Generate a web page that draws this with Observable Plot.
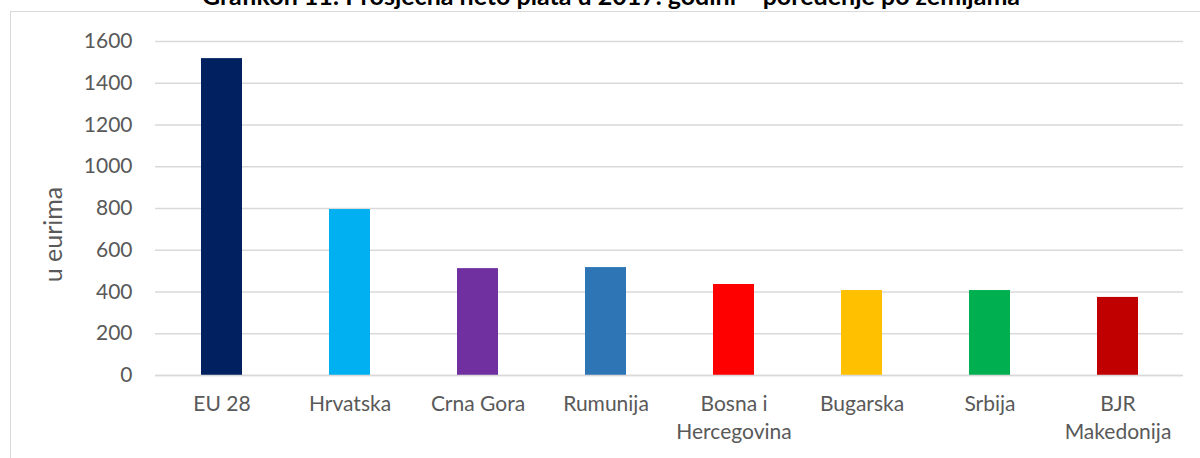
<!DOCTYPE html>
<html>
<head>
<meta charset="utf-8">
<script src="https://cdn.jsdelivr.net/npm/d3@7"></script>
<script src="https://cdn.jsdelivr.net/npm/@observablehq/plot@0.6"></script>
<style>
  html, body { margin: 0; padding: 0; background: #fff; overflow: hidden; }
  body { width: 1200px; height: 458px; position: relative; font-family: Lato, "Open Sans", sans-serif; }
  #frame { position: absolute; left: 10px; top: 11px; width: 1200px; height: 460px; border-left: 1.5px solid #d9d9d9; border-top: 1.5px solid #d9d9d9; box-sizing: border-box; }
  #title { position: absolute; left: 0; width: 1222px; top: -20px; line-height: 1.2; text-align: center; font-weight: bold; font-size: 25px; color: #000; white-space: nowrap; }
  #chart { position: absolute; left: 0; top: 0; }
</style>
</head>
<body>
<div id="frame"></div>
<div id="title">Grafikon 11: Prosječna neto plata u 2017. godini – poređenje po zemljama</div>
<div id="chart"></div>
<script>
const countries = ["EU 28", "Hrvatska", "Crna Gora", "Rumunija", "Bosna i\nHercegovina", "Bugarska", "Srbija", "BJR\nMakedonija"];
const salaries = [1518, 795, 512, 517, 436, 407, 407, 374];
const barColors = ["#002060", "#00B0F0", "#7030A0", "#2E75B6", "#FF0000", "#FFC000", "#00B050", "#C00000"];
const yTicks = [0, 200, 400, 600, 800, 1000, 1200, 1400, 1600];
const yLabel = "u eurima";

const data = countries.map((c, i) => ({country: c, value: salaries[i], color: barColors[i]}));

const chart = Plot.plot({
  width: 1200,
  height: 458,
  marginLeft: 155,
  marginRight: 17,
  marginTop: 41,
  marginBottom: 83,
  style: {fontFamily: "Lato, 'Open Sans', sans-serif", fontSize: "21px", color: "#595959", background: "transparent"},
  x: {domain: countries, paddingInner: 0.68, paddingOuter: 0.34, label: null},
  y: {domain: [0, 1600], label: null},
  marks: [
    Plot.gridY(yTicks, {stroke: "#d9d9d9", strokeOpacity: 1, strokeWidth: 1.4}),
    Plot.axisY(yTicks, {tickSize: 0, tickPadding: 23, fontSize: 21, fill: "#595959", tickFormat: "d", label: null}),
    Plot.axisX({tickSize: 0, tickPadding: 16, fontSize: 21, fill: "#595959", lineHeight: 1.33, label: null}),
    Plot.barY(data, {x: "country", y: "value", fill: "color"}),
    Plot.ruleY([0], {stroke: "#d9d9d9", strokeWidth: 1.4}),
    Plot.text([yLabel], {frameAnchor: "left", textAnchor: "middle", text: d => d, rotate: -90, dx: -102, dy: 26, fontSize: 25, fill: "#595959"})
  ]
});
document.getElementById("chart").appendChild(chart);
</script>
</body>
</html>
